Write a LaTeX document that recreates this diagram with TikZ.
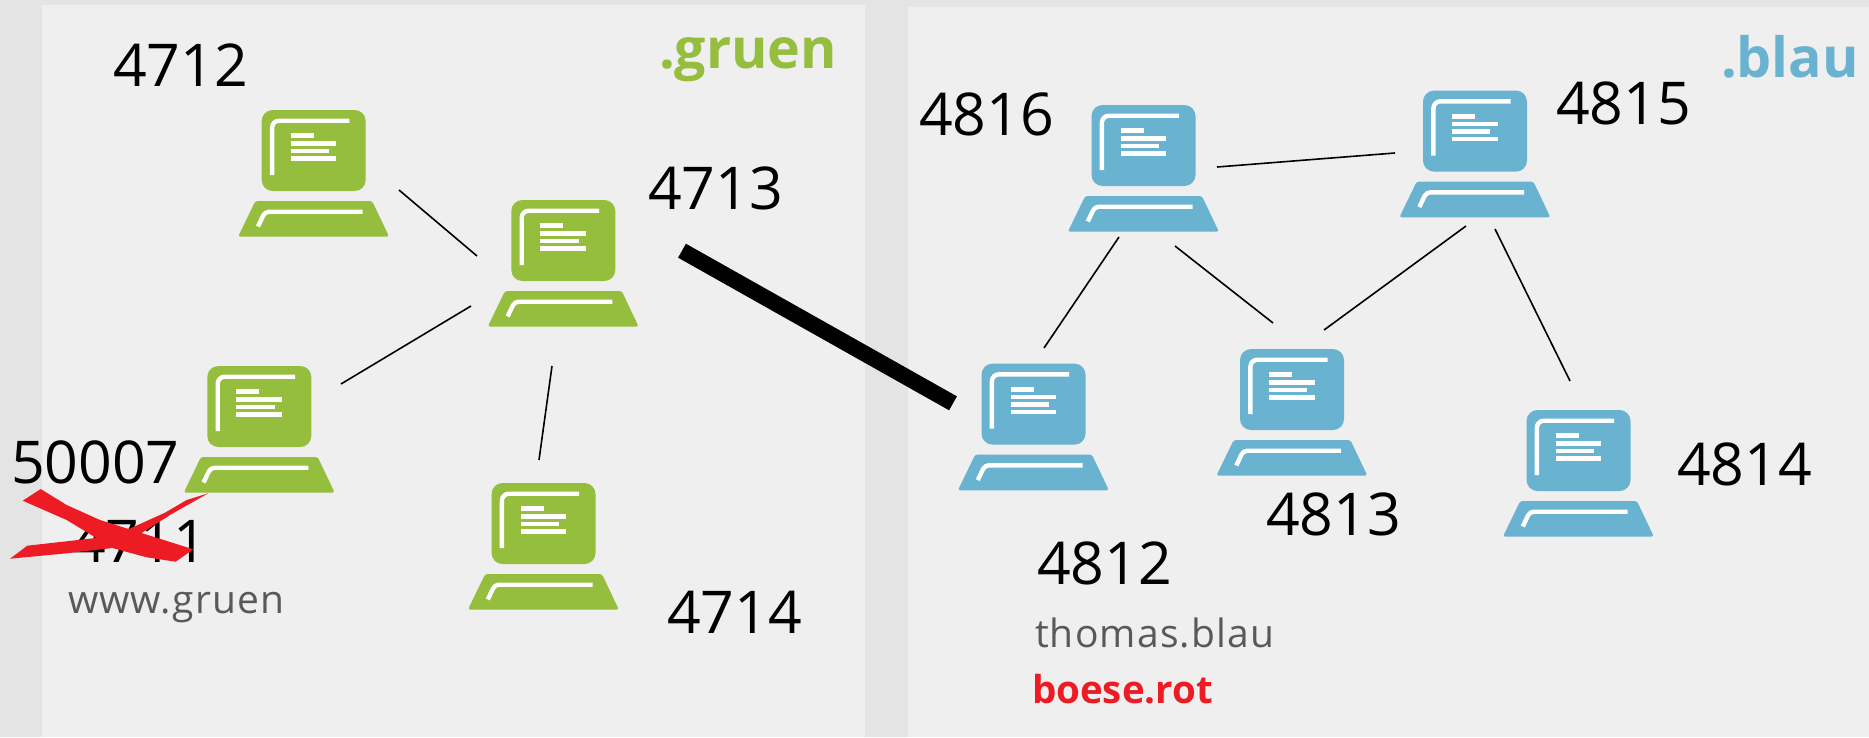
\documentclass[tikz,border=0pt]{standalone}
\usepackage{fontspec}
\setmainfont{Open Sans}
\newfontfamily\sansalt[LetterSpace=3]{Open Sans}
\newfontfamily\sansbold{Open Sans}
\definecolor{bggrey}{HTML}{E4E4E4}
\definecolor{panelgrey}{HTML}{EFEFEF}
\definecolor{gruen}{HTML}{95BD3E}
\definecolor{blau}{HTML}{69B3D0}
\definecolor{rot}{HTML}{ED1C24}
\definecolor{txtgrey}{HTML}{58595B}
\tikzset{
  x=1pt,y=-1pt,
  panel/.style={fill=panelgrey,draw=none},
  link/.style={draw=black,line width=1.6pt},
  biglink/.style={draw=black,line width=16pt},
  num/.style={anchor=base west,inner sep=0pt,outer sep=0pt,font=\fontsize{59}{61}\selectfont,text=black},
  lbl/.style={anchor=base west,inner sep=0pt,outer sep=0pt,font=\fontsize{39}{42}\selectfont\sansalt,text=txtgrey},
  head/.style={anchor=base west,inner sep=0pt,outer sep=0pt,font=\fontsize{55.5}{60}\selectfont\sansbold\bfseries},
  pics/computer/.style={code={
    \fill[fill=#1,rounded corners=11pt] (0,0) rectangle (104,81);
    \fill[fill=#1,rounded corners=2.5pt] (-6.3,91) -- (110.4,91) -- (127.4,126.7) -- (-23.6,126.7) -- cycle;
    \draw[white,line width=4.4pt,rounded corners=7pt] (10.4,65) -- (10.4,10.7) -- (87.7,10.7);
    \fill[white] (29,23.3) rectangle (52,28);
    \fill[white] (29,31) rectangle (74.7,35.7);
    \fill[white] (29,38.7) rectangle (67.4,43);
    \fill[white] (29,46) rectangle (74.7,50.7);
    \draw[white,line width=4.4pt,rounded corners=4pt] (-3.7,116.5) -- (3.3,101.7) -- (101,101.7);
  }}
}
\begin{document}
\begin{tikzpicture}
\useasboundingbox (0,0) rectangle (1869,737);
\fill[bggrey] (0,0) rectangle (1869,737);
\fill[panel] (41.7,4.7) rectangle (865,737);
\fill[panel] (908,7) rectangle (1869,737);
% computers
\pic (pa) at (261.7,110) {computer=gruen};
\pic (pb) at (511.3,200) {computer=gruen};
\pic (pc) at (207.3,366) {computer=gruen};
\pic (pd) at (491.5,483) {computer=gruen};
\pic (pe) at (1091.5,105) {computer=blau};
\pic (pf) at (1423,90.6) {computer=blau};
\pic (pg) at (981.5,363.6) {computer=blau};
\pic (ph) at (1240,349) {computer=blau};
\pic (pi) at (1526.5,410) {computer=blau};
% connector ends
\coordinate (a1) at (399,190); \coordinate (a2) at (477,256);
\coordinate (b1) at (471,306); \coordinate (b2) at (341,384);
\coordinate (c1) at (552,366); \coordinate (c2) at (539,460);
\coordinate (d1) at (682,250.7); \coordinate (d2) at (953,403.3);
\coordinate (e1) at (1217,167); \coordinate (e2) at (1395,153);
\coordinate (f1) at (1119,237); \coordinate (f2) at (1044,348);
\coordinate (g1) at (1175,246); \coordinate (g2) at (1273,323);
\coordinate (h1) at (1466,226); \coordinate (h2) at (1324,330);
\coordinate (i1) at (1495,229); \coordinate (i2) at (1570,381);
\draw[link] (a1) -- (a2);
\draw[link] (b1) -- (b2);
\draw[link] (c1) -- (c2);
\draw[biglink] (d1) -- (d2);
\draw[link] (e1) -- (e2);
\draw[link] (f1) -- (f2);
\draw[link] (g1) -- (g2);
\draw[link] (h1) -- (h2);
\draw[link] (i1) -- (i2);
% numbers
\node[num] (n4712) at (113,86) {4712};
\node[num] (n4713) at (648,209) {4713};
\node[num] (n50007) at (11,483) {50007};
\node[num] (n4711) at (72,562) {4711};
\node[num] (n4714) at (667,633) {4714};
\node[num] (n4816) at (919,135) {4816};
\node[num] (n4815) at (1556,124) {4815};
\node[num] (n4812) at (1037,584) {4812};
\node[num] (n4813) at (1266,535) {4813};
\node[num] (n4814) at (1677,485) {4814};
% labels
\node[lbl] (lw) at (68,613) {www.gruen};
\node[lbl] (lt) at (1035,647) {thomas.blau};
\node[head,text=rot,font=\fontsize{38.5}{42}\selectfont\sansbold\bfseries] (lr) at (1032,703) {boese.rot};
\node[head,text=gruen] (hg) at (659,68) {.gruen};
\node[head,text=blau] (hb) at (1721,77) {.blau};
% red cross
\fill[rot] (22.7,500.7) -- (40.7,489) -- (66.7,505) -- (100,520) -- (193.3,549.3) -- (175.7,561.7) -- (146.7,557.3) -- (113.3,548.3) -- (66.7,520) -- cycle;
\fill[rot] (10,558.7) -- (27.3,545.7) -- (93.3,538.3) -- (128.3,529.3) -- (165,512.7) -- (186.7,500) -- (208.3,493.3) -- (181.7,508.3) -- (170,515) -- (133.3,538.3) -- (110,548.3) -- (66.7,553.3) -- cycle;
\end{tikzpicture}
\end{document}
